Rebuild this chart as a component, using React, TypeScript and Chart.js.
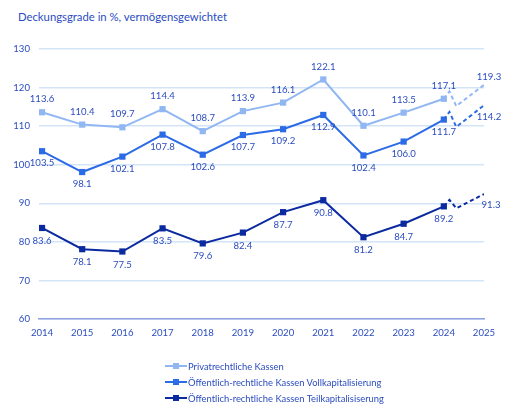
import React, { useEffect, useRef } from "react";
import { Chart, registerables } from "chart.js";

Chart.register(...registerables);

// ---- data ----
const years = [2014, 2015, 2016, 2017, 2018, 2019, 2020, 2021, 2022, 2023, 2024];
const privat = [113.6, 110.4, 109.7, 114.4, 108.7, 113.9, 116.1, 122.1, 110.1, 113.5, 117.1];
const voll = [103.5, 98.1, 102.1, 107.8, 102.6, 107.7, 109.2, 112.9, 102.4, 106.0, 111.7];
const teil = [83.6, 78.1, 77.5, 83.5, 79.6, 82.4, 87.7, 90.8, 81.2, 84.7, 89.2];

// 2025 projection: zig-zag dashed path (as drawn) and its labelled values
const pathX = [2024, 2024.14, 2024.31, 2025];
const privatPath = [117.1, 119.0, 115.2, 120.7];
const vollPath = [111.7, 113.7, 109.8, 115.4];
const teilPath = [89.2, 90.9, 88.7, 92.4];
const forecastLabels = [119.3, 114.2, 91.3];

const xTicks = [2014, 2015, 2016, 2017, 2018, 2019, 2020, 2021, 2022, 2023, 2024, 2025];
const yMin = 60;
const yMax = 130;

const seriesNames = [
  "Privatrechtliche Kassen",
  "Öffentlich-rechtliche Kassen Vollkapitalisierung",
  "Öffentlich-rechtliche Kassen Teilkapitalisiserung",
];
const colors = ["#91b7f3", "#2c6be6", "#0b2a9f"];
const textColor = "#2b4cbf";
const font = "Lato, 'Noto Sans', sans-serif";
const smallSize = 9.6;

const toXY = (xs: number[], ys: number[]) => xs.map((x, i) => ({ x, y: ys[i] }));

const labelPlugin = {
  id: "valueLabels",
  afterDatasetsDraw(chart: any) {
    const ctx = chart.ctx;
    ctx.save();
    ctx.font = `${smallSize}px ${font}`;
    ctx.fillStyle = textColor;
    ctx.textAlign = "center";
    ctx.textBaseline = "middle";
    const mains = [privat, voll, teil];
    const offs = [-13, 12, 13];
    mains.forEach((vals, di) => {
      const meta = chart.getDatasetMeta(di);
      meta.data.forEach((pt: any, i: number) => {
        ctx.fillText(vals[i].toFixed(1), pt.x, pt.y + offs[di]);
      });
    });
    const fOffs = [
      [5, -8],
      [5, 12],
      [7, 11],
    ];
    forecastLabels.forEach((v, k) => {
      const meta = chart.getDatasetMeta(3 + k);
      const pt = meta.data[meta.data.length - 1];
      ctx.fillText(v.toFixed(1), pt.x + fOffs[k][0], pt.y + fOffs[k][1]);
    });
    ctx.restore();
  },
};

export default function App() {
  const ref = useRef<HTMLCanvasElement | null>(null);

  useEffect(() => {
    if (!ref.current) return;
    const mainSets = [privat, voll, teil].map((vals, i) => ({
      label: seriesNames[i],
      data: toXY(years, vals),
      borderColor: colors[i],
      backgroundColor: colors[i],
      borderWidth: 2,
      pointStyle: "rect",
      pointRadius: 4.4,
      pointHoverRadius: 4.4,
      pointBorderWidth: 0,
      tension: 0,
    }));
    const dashSets = [privatPath, vollPath, teilPath].map((vals, i) => ({
      label: seriesNames[i] + " 2025",
      data: toXY(pathX, vals),
      borderColor: colors[i],
      backgroundColor: colors[i],
      borderWidth: 2,
      borderDash: [4, 3],
      pointRadius: 0,
      tension: 0,
    }));
    const chart = new Chart(ref.current, {
      type: "line",
      data: { datasets: [...mainSets, ...dashSets] as any },
      options: {
        animation: false,
        responsive: false,
        devicePixelRatio: 1,
        events: [],
        layout: { padding: { left: 0, right: 41, top: 49, bottom: 59 } },
        plugins: {
          legend: { display: false },
          tooltip: { enabled: false },
          title: { display: false },
        },
        scales: {
          x: {
            type: "linear",
            min: 2013.925,
            max: 2025,
            afterBuildTicks: (scale: any) => {
              scale.ticks = xTicks.map((v) => ({ value: v }));
            },
            afterFit: (scale: any) => {
              scale.height = 30;
            },
            grid: { display: false, drawTicks: false },
            border: { display: true, color: "#8ea2e2", width: 1.5 },
            ticks: {
              padding: 8,
              color: textColor,
              font: { family: font, size: smallSize },
              maxRotation: 0,
              autoSkip: false,
              callback: (v: any) => String(v),
            },
          },
          y: {
            min: yMin,
            max: yMax,
            afterFit: (scale: any) => {
              scale.width = 39;
            },
            grid: { color: "#d3e3f8", lineWidth: 1.5, drawTicks: false },
            border: { display: false },
            ticks: {
              stepSize: 10,
              padding: 9,
              color: textColor,
              font: { family: font, size: smallSize },
            },
          },
        },
      } as any,
      plugins: [labelPlugin],
    });
    return () => chart.destroy();
  }, []);

  const rowTops = [366, 382, 398];

  return (
    <div style={{ position: "absolute", left: 0, top: 0, width: 525, height: 408, fontFamily: font }}>
      <div
        style={{
          position: "absolute",
          left: 18,
          top: 9,
          fontSize: 11.3,
          color: textColor,
          whiteSpace: "nowrap",
          lineHeight: "16px",
        }}
      >
        Deckungsgrade in %, vermögensgewichtet
      </div>
      <canvas ref={ref} width={525} height={408} style={{ position: "absolute", left: 0, top: 0 }} />
      {seriesNames.map((name, i) => (
        <div
          key={name}
          style={{
            position: "absolute",
            left: 165,
            top: rowTops[i] - 7,
            height: 14,
            display: "flex",
            alignItems: "center",
            whiteSpace: "nowrap",
          }}
        >
          <span style={{ position: "relative", width: 22, height: 14, display: "inline-block" }}>
            <span
              style={{
                position: "absolute",
                left: 0,
                top: 6,
                width: 22,
                height: 2,
                background: colors[i],
              }}
            />
            <span
              style={{
                position: "absolute",
                left: 8,
                top: 4,
                width: 6,
                height: 6,
                background: colors[i],
              }}
            />
          </span>
          <span style={{ fontSize: 9.4, color: textColor, marginLeft: 1 }}>{name}</span>
        </div>
      ))}
    </div>
  );
}
